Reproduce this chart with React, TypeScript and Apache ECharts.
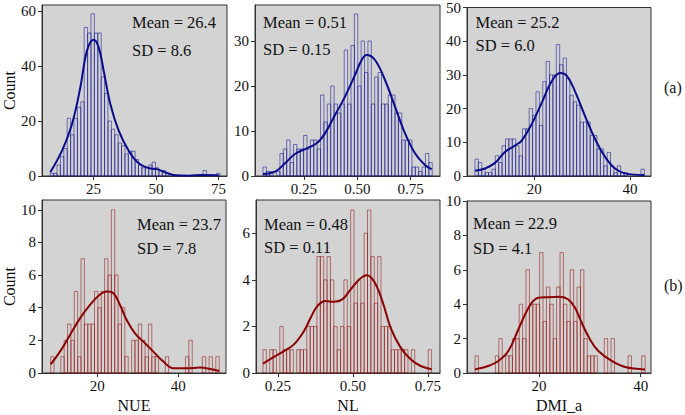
import React, { useEffect, useRef } from "react";
import * as echarts from "echarts";

const FONT = '"Liberation Serif", "Times New Roman", serif';
const BLUE_EDGE = "rgba(0,0,139,0.5)";
const RED_EDGE = "rgba(139,0,0,0.5)";
const BLUE_LINE = "#0a0a8c";
const RED_LINE = "#8b0000";

// ---------- (a) NUE ----------
const NUE_A_BIN_START = 7.7;
const NUE_A_BIN_WIDTH = 1.358;
const NUE_A_COUNTS = [1, 1, 4, 7, 10, 21, 15, 21, 25, 27, 54, 52, 59, 52, 52, 36, 30, 20, 17, 15, 12, 11, 8, 9, 9, 6, 4, 3, 3, 4, 5, 3, 2, 2, 1, 0, 0, 0, 0, 0, 0, 0, 0, 0, 0, 2, 0, 0, 0, 1];
const NUE_A_KDE_X = [7.73, 12.4, 16.4, 19.73, 22.4, 25.07, 27.07, 29.07, 31.73, 35.07, 39.07, 43.07, 47.07, 50.4, 53.73, 57.73, 63.07, 68.4, 75.07];
const NUE_A_KDE_Y = [1.33, 9.2, 18.9, 32.2, 45.6, 49.6, 46.8, 38.3, 26.2, 16.5, 9.2, 4.6, 2.9, 2.5, 1.3, 0.24, 0.12, 0.36, 0.24];
const NUE_A_X_TICKS = [25, 50, 75];
const NUE_A_Y_TICKS = [0, 20, 40, 60];

// ---------- (a) NL ----------
const NL_A_BIN_START = 0.0579;
const NL_A_BIN_WIDTH = 0.01586;
const NL_A_COUNTS = [2, 1, 1, 0, 1, 5, 6, 8, 3, 7, 6, 6, 9, 6, 8, 8, 6, 18, 12, 16, 20, 16, 14, 16, 28, 16, 29, 36, 20, 30, 23, 30, 16, 22, 23, 16, 16, 18, 18, 14, 14, 8, 8, 8, 2, 2, 1, 2, 5, 3];
const NL_A_KDE_X = [0.0579, 0.1141, 0.161, 0.2078, 0.2625, 0.3094, 0.3484, 0.3953, 0.4421, 0.489, 0.5203, 0.5437, 0.5828, 0.6296, 0.6765, 0.7233, 0.7702, 0.817, 0.8483];
const NL_A_KDE_Y = [0.44, 0.96, 2.81, 4.89, 6.15, 7.26, 9.48, 13.56, 17.63, 22.44, 25.78, 26.89, 25.78, 21.33, 15.41, 9.48, 5.04, 2.44, 1.48];
const NL_A_X_TICKS = [0.25, 0.5, 0.75];
const NL_A_Y_TICKS = [0, 10, 20, 30];

// ---------- (a) DMI_a ----------
const DMI_A_BIN_START = 7.61;
const DMI_A_BIN_WIDTH = 0.708;
const DMI_A_COUNTS = [5, 4, 2, 1, 1, 2, 6, 4, 9, 11, 11, 11, 9, 6, 14, 14, 20, 18, 25, 15, 28, 34, 30, 30, 39, 33, 35, 29, 24, 22, 21, 16, 16, 16, 12, 12, 8, 8, 3, 7, 3, 1, 3, 1, 1, 0, 0, 0, 0, 2];
const DMI_A_KDE_X = [7.61, 9.7, 11.79, 13.88, 15.97, 17.37, 19.46, 21.55, 23.64, 25.38, 26.77, 28.51, 30.6, 32.69, 34.78, 36.87, 38.96, 43.0];
const DMI_A_KDE_Y = [1.56, 2.24, 3.9, 7.12, 9.06, 10.53, 15.4, 21.7, 28.1, 30.6, 29.8, 25.1, 17.8, 11.0, 5.7, 2.2, 0.78, 0.29];
const DMI_A_X_TICKS = [20, 40];
const DMI_A_Y_TICKS = [0, 10, 20, 30, 40, 50];

// ---------- (b) NUE ----------
const NUE_B_BIN_START = 8.5;
const NUE_B_BIN_WIDTH = 0.832;
const NUE_B_COUNTS = [1, 0, 0, 1, 2, 3, 2, 5, 1, 7, 3, 3, 3, 5, 4, 5, 7, 6, 10, 6, 3, 4, 1, 0, 2, 2, 3, 2, 1, 3, 1, 1, 0, 0, 1, 0, 0, 0, 0, 0, 1, 2, 0, 0, 0, 1, 0, 1, 0, 1];
const NUE_B_KDE_X = [8.49, 10.79, 13.26, 15.73, 18.2, 20.26, 22.32, 23.96, 25.61, 27.26, 29.31, 31.37, 33.84, 36.31, 38.78, 42.07, 45.36, 47.83, 50.13];
const NUE_B_KDE_Y = [0.53, 1.31, 2.33, 3.35, 4.17, 4.72, 4.99, 4.89, 4.17, 3.25, 2.43, 1.92, 1.31, 0.7, 0.29, 0.29, 0.33, 0.25, 0.12];
const NUE_B_X_TICKS = [20, 40];
const NUE_B_Y_TICKS = [0, 2, 4, 6, 8, 10];

// ---------- (b) NL ----------
const NL_B_BIN_START = 0.2;
const NL_B_BIN_WIDTH = 0.01124;
const NL_B_COUNTS = [1, 0, 1, 1, 0, 2, 1, 1, 1, 0, 1, 1, 1, 2, 2, 2, 5, 5, 4, 5, 4, 2, 1, 2, 4, 2, 7, 3, 4, 3, 6, 7, 5, 3, 5, 2, 2, 2, 1, 1, 1, 1, 1, 0, 1, 0, 0, 0, 0, 1];
const NL_B_KDE_X = [0.2, 0.2367, 0.27, 0.3033, 0.3367, 0.3589, 0.3811, 0.4089, 0.4367, 0.4644, 0.4922, 0.52, 0.5456, 0.57, 0.5978, 0.6256, 0.6589, 0.6922, 0.7256, 0.7622];
const NL_B_KDE_Y = [0.4, 0.69, 0.94, 1.23, 1.8, 2.37, 2.87, 3.09, 3.06, 3.16, 3.59, 4.01, 4.2, 3.94, 3.09, 1.94, 1.09, 0.59, 0.3, 0.16];
const NL_B_X_TICKS = [0.25, 0.5, 0.75];
const NL_B_Y_TICKS = [0, 2, 4, 6];

// ---------- (b) DMI_a ----------
const DMI_B_BIN_START = 7.41;
const DMI_B_BIN_WIDTH = 0.669;
const DMI_B_COUNTS = [1, 0, 0, 0, 0, 0, 1, 2, 0, 1, 1, 2, 2, 4, 2, 6, 4, 4, 4, 7, 3, 5, 4, 2, 5, 7, 4, 3, 6, 3, 5, 6, 2, 1, 1, 1, 0, 0, 2, 0, 2, 0, 0, 0, 0, 1, 0, 0, 0, 1];
const DMI_B_KDE_X = [7.41, 10.03, 12.0, 13.97, 15.93, 17.25, 18.56, 19.87, 21.83, 24.13, 25.77, 27.08, 28.39, 30.03, 31.67, 34.29, 36.91, 40.84];
const DMI_B_KDE_Y = [0.21, 0.41, 0.7, 1.28, 2.53, 3.4, 4.08, 4.37, 4.41, 4.43, 4.27, 3.79, 2.92, 1.95, 1.28, 0.7, 0.35, 0.21];
const DMI_B_X_TICKS = [20, 40];
const DMI_B_Y_TICKS = [0, 2, 4, 6, 8, 10];

const STATS_MEAN = ["Mean = 26.4", "Mean = 0.51", "Mean = 25.2", "Mean = 23.7", "Mean = 0.48", "Mean = 22.9"];
const STATS_SD = ["SD = 8.6", "SD = 0.15", "SD = 6.0", "SD = 7.8", "SD = 0.11", "SD = 4.1"];
const X_NAMES = ["", "", "", "NUE", "NL", "DMI_a"];
const ROW_LABELS = ["(a)", "(b)"];

const PANELS = [
  { grid: [42, 5, 185, 171], xr: [4.4, 78.4], yMax: 62.2, start: NUE_A_BIN_START, w: NUE_A_BIN_WIDTH, counts: NUE_A_COUNTS, kx: NUE_A_KDE_X, ky: NUE_A_KDE_Y, xt: NUE_A_X_TICKS, yt: NUE_A_Y_TICKS, edge: BLUE_EDGE, line: BLUE_LINE, dec: 0, txt: [132, 22, 50], count: true },
  { grid: [255, 5, 185, 171], xr: [0.0204, 0.8873], yMax: 38.0, start: NL_A_BIN_START, w: NL_A_BIN_WIDTH, counts: NL_A_COUNTS, kx: NL_A_KDE_X, ky: NL_A_KDE_Y, xt: NL_A_X_TICKS, yt: NL_A_Y_TICKS, edge: BLUE_EDGE, line: BLUE_LINE, dec: 2, txt: [263, 22.5, 49.5], count: false },
  { grid: [467, 6, 184, 170], xr: [5.94, 44.39], yMax: 50, start: DMI_A_BIN_START, w: DMI_A_BIN_WIDTH, counts: DMI_A_COUNTS, kx: DMI_A_KDE_X, ky: DMI_A_KDE_Y, xt: DMI_A_X_TICKS, yt: DMI_A_Y_TICKS, edge: BLUE_EDGE, line: BLUE_LINE, dec: 0, txt: [475.5, 22.5, 45.5], count: false },
  { grid: [42, 200, 184, 173], xr: [6.35, 51.78], yMax: 10.6, start: NUE_B_BIN_START, w: NUE_B_BIN_WIDTH, counts: NUE_B_COUNTS, kx: NUE_B_KDE_X, ky: NUE_B_KDE_Y, xt: NUE_B_X_TICKS, yt: NUE_B_Y_TICKS, edge: RED_EDGE, line: RED_LINE, dec: 0, txt: [137, 224.5, 248.5], count: true },
  { grid: [256, 200, 184, 173], xr: [0.1767, 0.79], yMax: 7.43, start: NL_B_BIN_START, w: NL_B_BIN_WIDTH, counts: NL_B_COUNTS, kx: NL_B_KDE_X, ky: NL_B_KDE_Y, xt: NL_B_X_TICKS, yt: NL_B_Y_TICKS, edge: RED_EDGE, line: RED_LINE, dec: 2, txt: [264, 224, 247.5], count: false },
  { grid: [467, 201, 184, 172], xr: [5.84, 42.02], yMax: 10, start: DMI_B_BIN_START, w: DMI_B_BIN_WIDTH, counts: DMI_B_COUNTS, kx: DMI_B_KDE_X, ky: DMI_B_KDE_Y, xt: DMI_B_X_TICKS, yt: DMI_B_Y_TICKS, edge: RED_EDGE, line: RED_LINE, dec: 0, txt: [473, 223, 248], count: false },
];

function buildOption() {
  const grids: any[] = [];
  const xAxes: any[] = [];
  const yAxes: any[] = [];
  const series: any[] = [];
  const graphics: any[] = [];
  PANELS.forEach((p, k) => {
    grids.push({
      left: p.grid[0], top: p.grid[1], width: p.grid[2], height: p.grid[3],
      show: true, backgroundColor: "#d3d3d3", borderColor: "#333", borderWidth: 1,
    });
    xAxes.push({
      type: "value", gridIndex: k, min: p.xr[0], max: p.xr[1],
      axisLine: { show: true, onZero: false, lineStyle: { color: "#333", width: 1 } },
      axisTick: { show: true, length: 4, lineStyle: { color: "#333" }, customValues: p.xt },
      axisLabel: {
        customValues: p.xt, margin: 5, fontFamily: FONT, fontSize: 15, color: "#111",
        formatter: (v: number) => v.toFixed(p.dec),
      },
      splitLine: { show: false },
      name: X_NAMES[k], nameLocation: "middle", nameGap: 24,
      nameTextStyle: { fontFamily: FONT, fontSize: 16, color: "#111" },
    });
    yAxes.push({
      type: "value", gridIndex: k, min: 0, max: p.yMax,
      axisLine: { show: true, lineStyle: { color: "#333", width: 1 } },
      axisTick: { show: true, length: 4, lineStyle: { color: "#333" }, customValues: p.yt },
      axisLabel: { customValues: p.yt, margin: 6, fontFamily: FONT, fontSize: 15, color: "#111" },
      splitLine: { show: false },
      name: p.count ? "Count" : "", nameLocation: "middle", nameGap: 24,
      nameTextStyle: { fontFamily: FONT, fontSize: 16, color: "#111" },
    });
    const bins = p.counts.map((c, i) => [p.start + i * p.w, p.start + (i + 1) * p.w, c]).filter((d) => d[2] > 0);
    const edge = p.edge;
    series.push({
      type: "custom", xAxisIndex: k, yAxisIndex: k, data: bins,
      encode: { x: [0, 1], y: 2 },
      renderItem: (params: any, api: any) => {
        const p0 = api.coord([api.value(0), api.value(2)]);
        const p1 = api.coord([api.value(1), 0]);
        return {
          type: "rect",
          shape: { x: p0[0], y: p0[1], width: p1[0] - p0[0], height: p1[1] - p0[1] },
          style: { fill: "rgba(255,255,255,0)", stroke: edge, lineWidth: 1 },
        };
      },
    });
    series.push({
      type: "line", xAxisIndex: k, yAxisIndex: k, smooth: 0.4, showSymbol: false,
      lineStyle: { color: p.line, width: 2 },
      data: p.kx.map((x, i) => [x, p.ky[i]]),
    });
    graphics.push({
      type: "text", x: p.txt[0], y: p.txt[1],
      style: { text: STATS_MEAN[k], font: `16.5px ${FONT}`, fill: "#111", align: "left", verticalAlign: "middle" },
    });
    graphics.push({
      type: "text", x: p.txt[0], y: p.txt[2],
      style: { text: STATS_SD[k], font: `16.5px ${FONT}`, fill: "#111", align: "left", verticalAlign: "middle" },
    });
  });
  graphics.push({ type: "text", x: 664, y: 87, style: { text: ROW_LABELS[0], font: `16px ${FONT}`, fill: "#111", verticalAlign: "middle" } });
  graphics.push({ type: "text", x: 664, y: 285, style: { text: ROW_LABELS[1], font: `16px ${FONT}`, fill: "#111", verticalAlign: "middle" } });
  return {
    animation: false,
    backgroundColor: "#ffffff",
    grid: grids,
    xAxis: xAxes,
    yAxis: yAxes,
    series,
    graphic: graphics,
  };
}

export default function App() {
  const ref = useRef<HTMLDivElement>(null);
  useEffect(() => {
    if (!ref.current) return;
    const chart = echarts.init(ref.current, undefined, { renderer: "svg" });
    chart.setOption(buildOption() as any);
    return () => chart.dispose();
  }, []);
  return (
    <div
      ref={ref}
      style={{ position: "fixed", left: 0, top: 0, width: 685, height: 415, background: "#fff" }}
    />
  );
}
